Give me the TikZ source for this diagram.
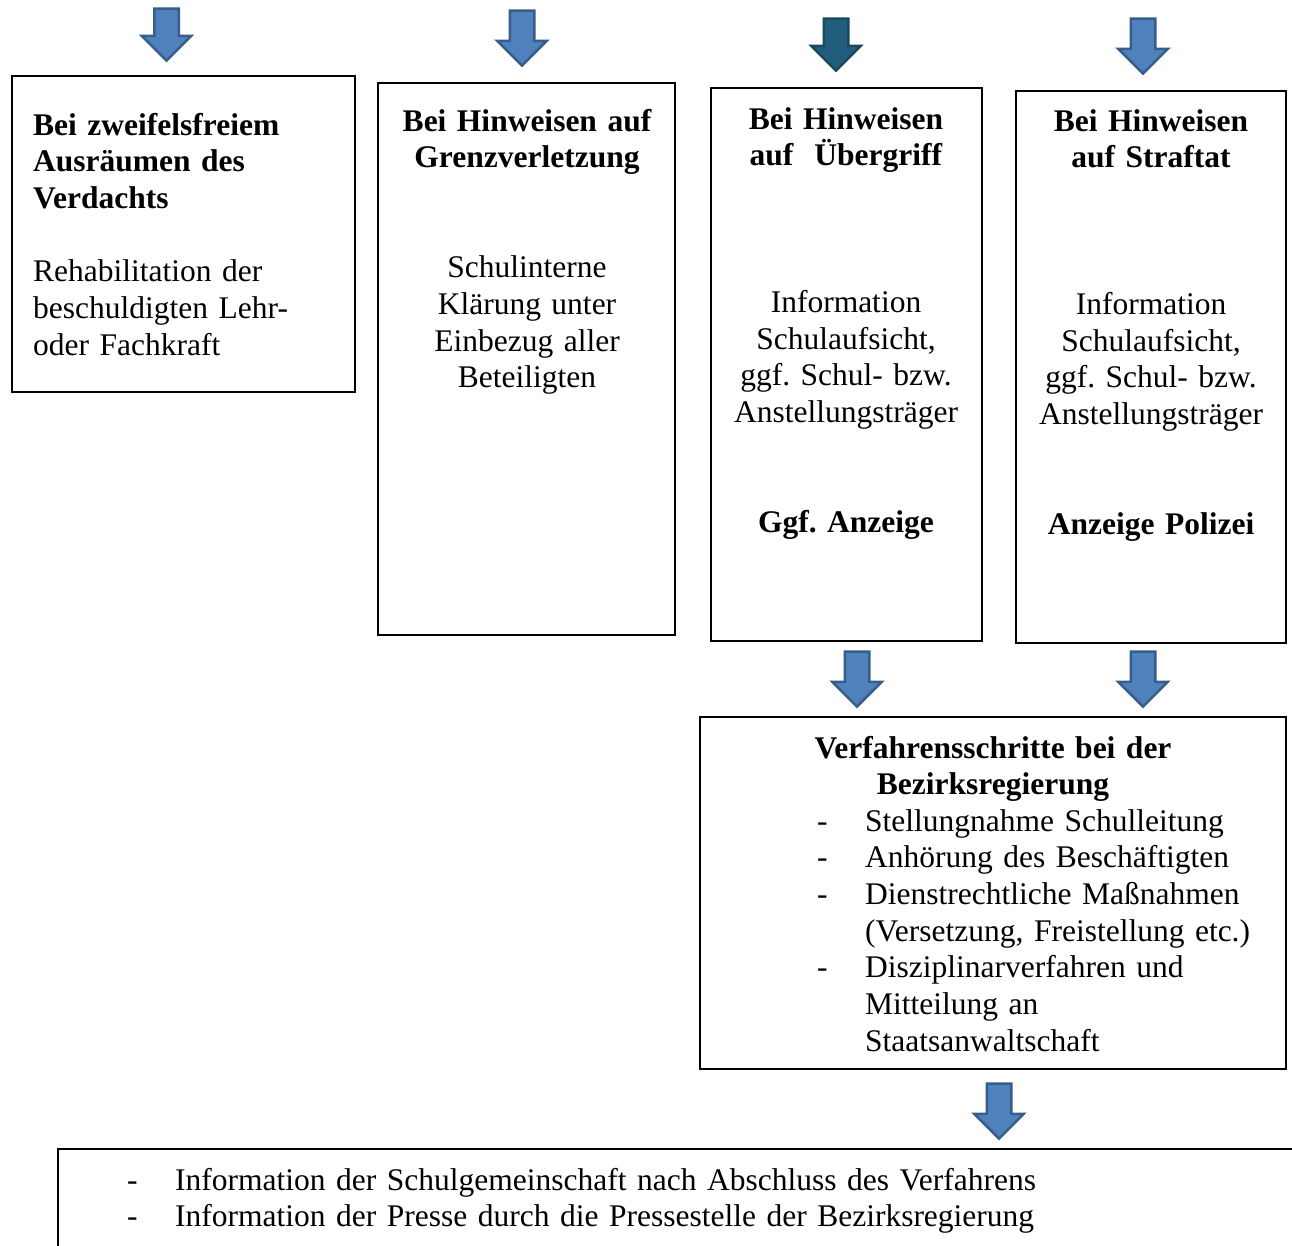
\documentclass[tikz,border=0pt]{standalone}
\usepackage{fontspec}
\setmainfont{Liberation Serif}
\usetikzlibrary{shapes.arrows}
\definecolor{arrfill}{HTML}{4F81BD}
\definecolor{arrline}{HTML}{385D8A}
\definecolor{tealfill}{HTML}{215E7C}
\definecolor{tealline}{HTML}{1A4861}
\frenchspacing
\begin{document}
\begin{tikzpicture}[
    x=1pt, y=-1pt,
    every node/.style = {font=\fontsize{31.5}{36.7}\selectfont},
    box/.style = {draw, line width=2.5pt, inner sep=0},
    txt/.style = {inner sep=0, anchor=base},
    darrow/.style = {single arrow, shape border rotate=270, draw=arrline,
      fill=arrfill, line width=2.5pt, inner sep=11pt,
      single arrow head extend=12.5pt},
    tarrow/.style = {darrow, draw=tealline, fill=tealfill},
  ]
  \clip (0,0) rectangle (1292,1245);
  \fill[white] (0,0) rectangle (1292,1245);
  \node[box, minimum width=343, minimum height=316] (zweifel) at (183.5,234) {};
  \node[box, minimum width=297, minimum height=552] (grenz) at (526.5,359) {};
  \node[box, minimum width=271, minimum height=553] (uebergriff) at (846.5,364.5) {};
  \node[box, minimum width=270, minimum height=552] (straftat) at (1151,367) {};
  \node[box, minimum width=586, minimum height=352] (verfahren) at (993,893) {};
  \node[box, minimum width=1300, minimum height=200] (info) at (708,1249) {};
  \node[darrow, minimum height=52] (a1) at (166.5,28.5) {};
  \node[darrow, minimum height=55] (a2) at (522,32) {};
  \node[tarrow, minimum height=52] (a3) at (836,38.5) {};
  \node[darrow, minimum height=55] (a4) at (1143,40) {};
  \node[darrow, minimum height=55] (a5) at (857,673) {};
  \node[darrow, minimum height=55] (a6) at (1143,673) {};
  \node[darrow, minimum height=55] (a7) at (999,1105) {};
  \node[txt, anchor=base west, text width=315, align=left] (t1) at (33,135)
    {\textbf{Bei zweifelsfreiem\\Ausräumen des\\Verdachts}\\[36.7pt]
     Rehabilitation der\\beschuldigten Lehr-\\oder Fachkraft};
  \node[txt, text width=295, align=center] (t2) at (527,131)
    {\textbf{Bei Hinweisen auf\\Grenzverletzung}\\[73.4pt]
     Schulinterne\\Klärung unter\\Einbezug aller\\Beteiligten};
  \node[txt, text width=268, align=center] (t3) at (846,129)
    {\textbf{Bei Hinweisen\\auf\ \ Übergriff}\\[110.1pt]
     Information\\Schulaufsicht,\\ggf. Schul- bzw.\\Anstellungsträger\\[73.4pt]
     \textbf{Ggf. Anzeige}};
  \node[txt, text width=268, align=center] (t4) at (1151,131)
    {\textbf{Bei Hinweisen\\auf Straftat}\\[110.1pt]
     Information\\Schulaufsicht,\\ggf. Schul- bzw.\\Anstellungsträger\\[73.4pt]
     \textbf{Anzeige Polizei}};
  \node[txt, text width=570, align=center] (t5) at (993,758)
    {\textbf{Verfahrensschritte bei der\\Bezirksregierung}};
  \node[txt, anchor=base west, text width=470, align=left] (t6) at (817,831)
    {\makebox[48pt][l]{-}Stellungnahme Schulleitung\\
     \makebox[48pt][l]{-}Anhörung des Beschäftigten\\
     \makebox[48pt][l]{-}Dienstrechtliche Maßnahmen\\
     \hspace*{48pt}(Versetzung, Freistellung etc.)\\
     \makebox[48pt][l]{-}Disziplinarverfahren und\\
     \hspace*{48pt}Mitteilung an\\
     \hspace*{48pt}Staatsanwaltschaft};
  \node[txt, anchor=base west, text width=1100, align=left] (t7) at (127,1190)
    {\makebox[48pt][l]{-}Information der Schulgemeinschaft nach Abschluss des Verfahrens\\
     \makebox[48pt][l]{-}Information der Presse durch die Pressestelle der Bezirksregierung};
\end{tikzpicture}
\end{document}
